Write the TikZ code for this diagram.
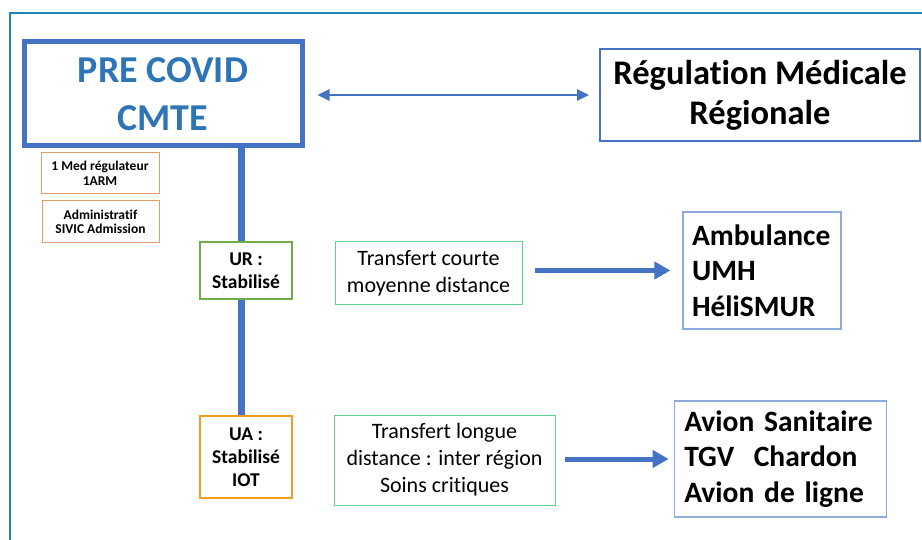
\documentclass[tikz,border=0pt]{standalone}
\usepackage{fontspec}
\setmainfont[Ligatures=NoCommon]{Carlito}
\usepackage{xcolor}
\usepackage{tikz}
\usetikzlibrary{arrows.meta}

\definecolor{covidblue}{HTML}{4472C4}
\definecolor{titleblue}{HTML}{2E75B6}
\definecolor{framebg}{HTML}{1E87B0}
\definecolor{softblue}{HTML}{8FAADC}
\definecolor{salmon}{HTML}{E69B6A}
\definecolor{urgreen}{HTML}{70AD47}
\definecolor{uaorange}{HTML}{F39C1F}
\definecolor{lightgreen}{HTML}{5ED38B}

\begin{document}
\begin{tikzpicture}[x=1pt, y=-1pt,
    box/.style={draw, fill=white, align=center, inner sep=0pt},
    staffbox/.style={box, draw=salmon, line width=1pt, font=\bfseries\fontsize{13.5}{14.5}\selectfont},
    unitbox/.style={box, line width=2.5pt, font=\bfseries\fontsize{19.5}{23}\selectfont},
    transbox/.style={box, draw=lightgreen, line width=1pt, font=\fontsize{22}{27}\selectfont},
    meansbox/.style={box, draw=softblue, line width=1.2pt, align=left, inner xsep=9pt, font=\bfseries\fontsize{29.5}{35.5}\selectfont},
    flow/.style={draw=covidblue, line width=5pt, -{Triangle[length=16pt, width=17pt]}}
  ]
      \useasboundingbox (0,0) rectangle (922,540);
      \draw[framebg, line width=1.5pt] (10,545) -- (10,13) -- (930,13);
      % top row
      \node[box, draw=covidblue, line width=5pt, minimum width=278pt, minimum height=104pt,
            text=titleblue, font=\bfseries\fontsize{38}{48}\selectfont] (pre) at (163,94) {PRE COVID\\CMTE};
      \node[box, draw=covidblue, line width=2pt, minimum width=320pt, minimum height=92pt,
            font=\bfseries\fontsize{34.5}{40}\selectfont] (reg) at (760,95) {R\'egulation M\'edicale\\R\'egionale};
      \draw[covidblue, line width=2.5pt, {Triangle[length=12pt, width=11pt]}-{Triangle[length=12pt, width=11pt]},
            shorten <=13pt, shorten >=10pt] (pre.east |- reg.west) -- (reg.west);
      % staff
      \node[staffbox, minimum width=118pt, minimum height=41pt] (med) at (100,173.5) {1 Med r\'egulateur\\1ARM};
      \node[staffbox, minimum width=117pt, minimum height=42pt] (adm) at (100.5,222) {Administratif\\SIVIC Admission};
      % spine
      \coordinate (spine) at (241,0);
      \node[unitbox, draw=uaorange, minimum width=92pt, minimum height=82pt] (ua) at (246,457) {UA :\\Stabilis\'e\\IOT};
      \draw[covidblue, line width=7pt] (pre.south -| spine) -- (ua.north -| spine);
      \node[unitbox, draw=urgreen, minimum width=92pt, minimum height=57pt] (ur) at (246,270.5) {UR :\\Stabilis\'e};
      % transfers
      \node[transbox, minimum width=187pt, minimum height=63pt] (court) at (428.5,273.5) {Transfert courte\\moyenne distance};
      \node[transbox, minimum width=221pt, minimum height=90pt] (long) at (444.5,460) {Transfert longue\\distance : inter r\'egion\\Soins critiques};
      \node[meansbox, text width=140pt, minimum height=117pt] (amb) at (762,270.5) {Ambulance\\UMH\\H\'eliSMUR};
      \node[meansbox, inner xsep=10pt, text width=192pt, minimum height=116pt] (avion) at (780.3,459) {Avion Sanitaire\\TGV\ \ Chardon\\Avion de ligne};
      \draw[flow, shorten <=12pt, shorten >=12pt] (court.east |- amb.west) -- (amb.west);
      \draw[flow, shorten <=9pt, shorten >=5pt] (long.east |- avion.west) -- (avion.west);
\end{tikzpicture}
\end{document}
